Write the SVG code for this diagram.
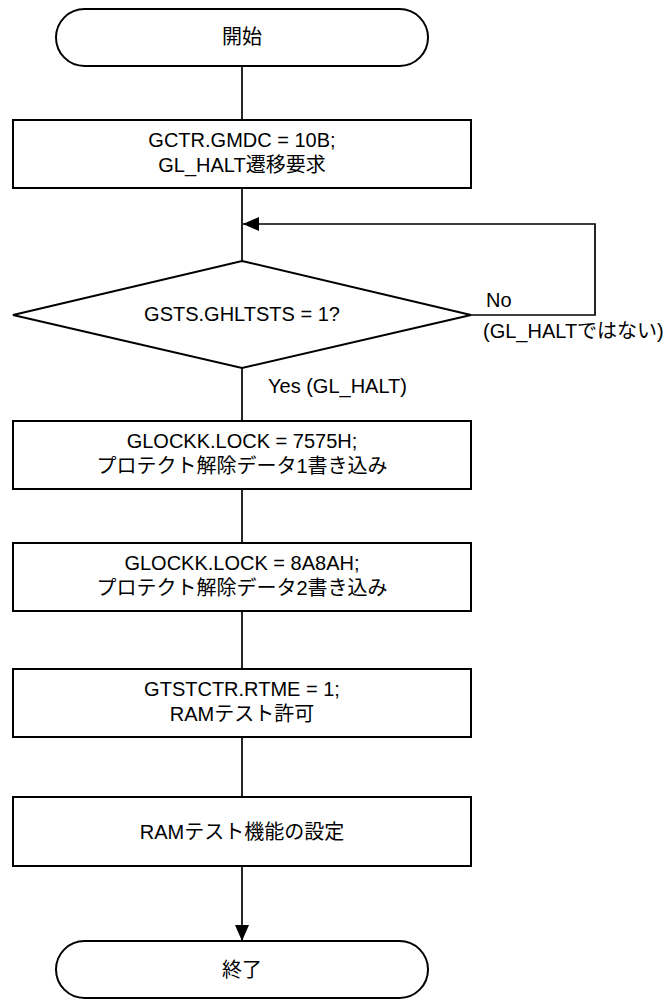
<svg xmlns="http://www.w3.org/2000/svg" width="672" height="999" viewBox="0 0 672 999">
  <defs>
    <style>
      .shape { fill: #ffffff; stroke: #000000; stroke-width: 2; }
      .conn { fill: none; stroke: #000000; stroke-width: 1.7; }
      text { font-family: "Liberation Sans", Arial, "Noto Sans CJK JP", sans-serif; font-size: 20px; fill: #000000; }
      .c { text-anchor: middle; }
    </style>
    <marker id="arrow" viewBox="0 0 16 14" refX="16" refY="7" markerWidth="16" markerHeight="14" markerUnits="userSpaceOnUse" orient="auto">
      <path d="M0,0 L16,7 L0,14 Z" fill="#000000"/>
    </marker>
  </defs>
  <rect width="672" height="999" fill="#ffffff"/>

  <g id="connectors">
    <line class="conn" x1="242" y1="66" x2="242" y2="120"/>
    <line class="conn" x1="242" y1="188" x2="242" y2="261"/>
    <polyline class="conn" points="471,315 595,315 595,224 243,224" marker-end="url(#arrow)"/>
    <line class="conn" x1="242" y1="368" x2="242" y2="421"/>
    <line class="conn" x1="242" y1="489" x2="242" y2="543"/>
    <line class="conn" x1="242" y1="611" x2="242" y2="669"/>
    <line class="conn" x1="242" y1="737" x2="242" y2="797"/>
    <line class="conn" x1="242" y1="866" x2="242" y2="941" marker-end="url(#arrow)"/>
  </g>

  <g id="start">
    <rect class="shape" x="56" y="9" width="372" height="57" rx="28.5" ry="28.5"/>
    <text class="c" x="242" y="44">開始</text>
  </g>

  <g id="step1">
    <rect class="shape" x="13" y="120" width="458" height="68"/>
    <text class="c" x="242" y="147">GCTR.GMDC = 10B;</text>
    <text class="c" x="242" y="172">GL_HALT遷移要求</text>
  </g>

  <g id="decision">
    <polygon class="shape" points="242,261 471,315 242,368 13,315"/>
    <text class="c" x="242" y="321">GSTS.GHLTSTS = 1?</text>
    <text x="486" y="307">No</text>
    <text x="483" y="338">(GL_HALTではない)</text>
    <text x="268" y="393">Yes (GL_HALT)</text>
  </g>

  <g id="step2">
    <rect class="shape" x="13" y="421" width="458" height="68"/>
    <text class="c" x="242" y="447.5">GLOCKK.LOCK = 7575H;</text>
    <text class="c" x="242" y="472.5">プロテクト解除データ1書き込み</text>
  </g>

  <g id="step3">
    <rect class="shape" x="13" y="543" width="458" height="68"/>
    <text class="c" x="242" y="569.5">GLOCKK.LOCK = 8A8AH;</text>
    <text class="c" x="242" y="594.5">プロテクト解除データ2書き込み</text>
  </g>

  <g id="step4">
    <rect class="shape" x="13" y="669" width="458" height="68"/>
    <text class="c" x="242" y="696">GTSTCTR.RTME = 1;</text>
    <text class="c" x="242" y="721">RAMテスト許可</text>
  </g>

  <g id="step5">
    <rect class="shape" x="13" y="797" width="458" height="69"/>
    <text class="c" x="242" y="839">RAMテスト機能の設定</text>
  </g>

  <g id="end">
    <rect class="shape" x="56" y="941" width="372" height="57" rx="28.5" ry="28.5"/>
    <text class="c" x="242" y="977">終了</text>
  </g>
</svg>
